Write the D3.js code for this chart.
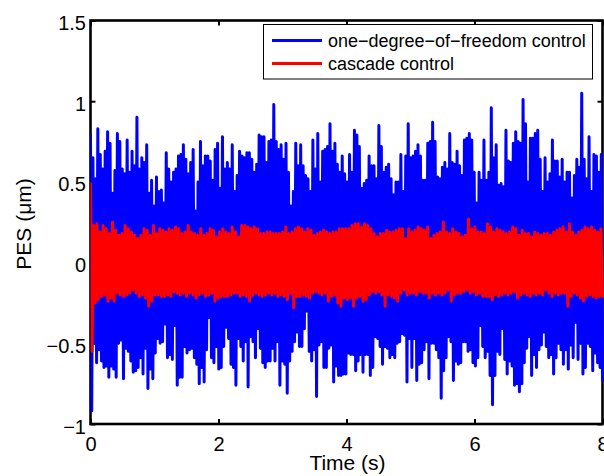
<!DOCTYPE html>
<html><head><meta charset="utf-8">
<script src="https://cdn.jsdelivr.net/npm/d3@7"></script>
<style>html,body{margin:0;padding:0;background:#fff;overflow:hidden}</style>
</head><body><svg id="c" width="604" height="476"></svg>
<script>
const seriesNames = ["one\u2212degree\u2212of\u2212freedom control", "cascade control"];
const seriesColors = ["#0000ff", "#ff0000"];
const xTicks = [0, 2, 4, 6, 8];
const yTicks = [-1, -0.5, 0, 0.5, 1, 1.5];
const xLabel = "Time (s)";
const yLabel = "PES (\u03bcm)";
const tEnd = 8;

// one-degree-of-freedom control: successive local maxima / minima (µm)
const blueHigh = [
0.79,0.65,0.52,0.83,0.67,0.58,0.69,0.81,0.74,0.43,
0.57,0.80,0.75,0.58,0.55,0.76,0.56,0.69,0.60,0.90,
0.58,0.65,0.62,0.73,0.43,0.51,0.35,0.53,0.44,0.45,
0.37,0.68,0.58,0.50,0.56,0.58,0.66,0.67,0.73,0.64,
0.55,0.62,0.70,0.32,0.50,0.75,0.60,0.66,0.66,0.63,
0.51,0.70,0.74,0.46,0.78,0.58,0.62,0.58,0.73,0.44,
0.54,0.69,0.66,0.65,0.68,0.68,0.64,0.56,0.61,0.79,
0.78,0.78,0.62,0.75,0.76,0.98,0.75,0.70,0.73,0.64,
0.74,0.56,0.35,0.44,0.74,0.60,0.73,0.60,0.54,0.52,
0.44,0.76,0.58,0.80,0.50,0.69,0.70,0.72,0.86,0.69,
0.74,0.61,0.56,0.66,0.55,0.50,0.67,0.56,0.82,0.79,
0.72,0.46,0.49,0.51,0.66,0.60,0.60,0.52,0.85,0.72,
0.56,0.59,0.61,0.52,0.42,0.50,0.50,0.67,0.44,0.66,
0.86,0.65,0.66,0.69,0.73,0.66,0.51,0.51,0.74,0.75,
0.87,0.75,0.53,0.52,0.59,0.62,0.58,0.80,0.62,0.61,
0.69,0.60,0.54,0.76,0.77,0.80,0.76,0.56,0.37,0.56,
0.51,0.76,0.51,0.56,0.96,0.65,0.73,0.48,0.49,0.47,
0.82,0.63,0.62,0.74,0.81,0.75,0.74,1.01,0.86,0.50,
0.77,0.77,0.80,0.82,0.64,0.44,0.65,0.50,0.55,0.76,
0.63,0.63,0.53,0.64,0.50,0.56,0.56,0.40,0.54,0.64,
0.59,1.05,0.64,0.52,0.78,0.44,0.67,0.66,0.56,0.67
];
const blueLow = [
-0.92,-0.50,-0.62,-0.54,-0.61,-0.65,-0.64,-0.71,-0.64,-0.66,
-0.71,-0.50,-0.48,-0.72,-0.53,-0.55,-0.61,-0.68,-0.67,-0.65,
-0.59,-0.69,-0.53,-0.78,-0.66,-0.72,-0.56,-0.47,-0.50,-0.49,
-0.38,-0.59,-0.57,-0.60,-0.39,-0.76,-0.71,-0.71,-0.52,-0.56,
-0.54,-0.53,-0.59,-0.63,-0.75,-0.65,-0.74,-0.54,-0.34,-0.59,
-0.62,-0.52,-0.66,-0.65,-0.52,-0.40,-0.47,-0.63,-0.65,-0.76,
-0.47,-0.52,-0.61,-0.49,-0.77,-0.46,-0.49,-0.59,-0.41,-0.53,
-0.62,-0.65,-0.61,-0.61,-0.53,-0.61,-0.49,-0.76,-0.61,-0.63,
-0.81,-0.61,-0.55,-0.49,-0.43,-0.52,-0.52,-0.41,-0.30,-0.55,
-0.61,-0.54,-0.83,-0.51,-0.49,-0.65,-0.65,-0.53,-0.51,-0.74,
-0.64,-0.70,-0.70,-0.69,
-0.69,-0.56,-0.57,-0.57,-0.67,-0.61,-0.57,-0.68,-0.57,-0.57,
-0.70,-0.65,-0.46,-0.47,-0.52,-0.63,-0.52,-0.53,-0.59,-0.57,
-0.59,-0.50,-0.49,-0.44,-0.45,-0.74,-0.47,-0.65,-0.47,-0.73,
-0.63,-0.62,-0.54,-0.49,-0.72,-0.50,-0.50,-0.54,-0.59,-0.84,
-0.67,-0.59,-0.46,-0.49,-0.73,-0.61,-0.63,-0.62,-0.49,-0.49,
-0.55,-0.54,-0.62,-0.64,-0.59,-0.39,-0.52,-0.59,-0.55,-0.70,
-0.88,-0.70,-0.55,-0.57,-0.41,-0.60,-0.69,-0.61,-0.64,-0.76,
-0.75,-0.80,-0.75,-0.62,-0.53,-0.46,-0.70,-0.57,-0.65,-0.54,
-0.51,-0.43,-0.52,-0.59,-0.57,-0.69,-0.59,-0.50,-0.54,-0.63,
-0.54,-0.66,-0.51,-0.59,-0.37,-0.60,-0.50,-0.69,-0.65,-0.50,
-0.52,-0.67,-0.56,-0.62,-0.65,-0.73
];

// cascade control: successive local maxima / minima (µm)
const redHigh = [
0.49,
0.23,0.24,0.19,0.23,0.21,0.18,0.25,0.20,0.17,0.18,
0.23,0.21,0.19,0.17,0.15,0.17,0.21,0.20,0.17,0.23,
0.18,0.21,0.20,0.19,0.21,0.20,0.22,0.21,0.18,0.19,
0.23,0.19,0.18,0.17,0.21,0.17,0.18,0.21,0.20,0.16,
0.19,0.21,0.19,0.18,0.22,0.19,0.16,0.23,0.23,0.22,
0.21,0.22,0.21,0.18,0.18,0.19,0.19,0.18,0.18,0.18,
0.19,0.22,0.18,0.19,0.21,0.22,0.21,0.19,0.21,0.20,
0.17,0.18,0.19,0.20,0.19,0.18,0.19,0.19,0.21,0.21,
0.21,0.21,0.23,0.24,
0.24,0.22,0.24,0.23,0.21,0.18,0.16,0.18,0.18,0.20,
0.19,0.19,0.20,0.21,0.21,0.15,0.21,0.19,0.20,0.22,
0.21,0.20,0.22,0.15,0.17,0.18,0.19,0.25,0.19,0.18,
0.21,0.19,0.18,0.16,0.17,0.27,0.21,0.22,0.19,0.19,
0.18,0.24,0.22,0.19,0.21,0.20,0.19,0.18,0.19,0.22,
0.21,0.17,0.20,0.18,0.18,0.16,0.19,0.18,0.17,0.18,
0.18,0.17,0.19,0.20,0.21,0.22,0.19,0.24,0.19,0.17,
0.19,0.20,0.22,0.21,0.22,0.20,0.19,0.21
];
const redLow = [
-0.55,
-0.25,-0.23,-0.21,-0.20,-0.24,-0.22,-0.24,-0.19,-0.20,-0.21,
-0.20,-0.19,-0.17,-0.19,-0.21,-0.20,-0.22,-0.27,-0.24,-0.20,
-0.20,
-0.21,-0.21,-0.20,-0.21,-0.18,-0.19,-0.20,-0.19,-0.21,-0.19,
-0.20,-0.22,-0.20,-0.19,-0.21,-0.20,-0.19,-0.24,-0.22,-0.21,
-0.21,
-0.21,-0.20,-0.19,-0.19,-0.21,-0.20,-0.21,-0.24,-0.20,-0.19,
-0.20,-0.21,-0.20,-0.19,-0.20,-0.19,-0.21,-0.20,-0.21,-0.23,
-0.19,
-0.28,-0.21,-0.21,-0.20,-0.21,-0.22,-0.19,-0.18,-0.19,-0.20,
-0.19,-0.24,-0.21,-0.20,-0.25,-0.27,-0.22,-0.23,-0.22,
-0.27,-0.22,-0.21,-0.24,-0.23,-0.20,-0.18,-0.19,-0.18,-0.20,
-0.27,-0.20,-0.21,-0.22,-0.24,-0.19,-0.17,-0.20,-0.19,-0.19,
-0.20,
-0.18,-0.19,-0.19,-0.22,-0.19,-0.20,-0.19,-0.20,-0.19,-0.17,
-0.24,-0.20,-0.19,-0.19,-0.18,-0.17,-0.19,-0.18,-0.20,-0.19,
-0.21,
-0.21,-0.21,-0.23,-0.20,-0.21,-0.20,-0.19,-0.20,-0.19,-0.18,
-0.22,-0.20,-0.19,-0.20,-0.21,-0.19,-0.20,-0.19,-0.20,-0.17,
-0.19,
-0.21,-0.19,-0.20,-0.19,-0.19,-0.27,-0.21,-0.19,-0.20,-0.22,
-0.24,-0.21,-0.20,-0.21,-0.22,-0.21,-0.21
];

function toSeries(high, low) {
  const n = Math.min(high.length, low.length);
  const dt = tEnd / (n - 0.5);
  const pts = [];
  for (let i = 0; i < n; i++) {
    pts.push([i * dt, high[i]]);
    pts.push([(i + 0.5) * dt, low[i]]);
  }
  return pts;
}
const series = [toSeries(blueHigh, blueLow), toSeries(redHigh, redLow)];

const FONT = "'Liberation Sans', Arial, Helvetica, sans-serif";
const L = 90.5, R = 602.5, T = 20.5, B = 424;
const x = d3.scaleLinear().domain([0, 8]).range([L, R]);
const y = d3.scaleLinear().domain([-1, 1.5]).range([B, T]);
const fmt = d => (d < 0 ? "\u2212" + Math.abs(d) : String(d));

const svg = d3.select("#c");
svg.append("rect").attr("width", 604).attr("height", 476).attr("fill", "#fff");

// axes (drawn below the data, MATLAB layer 'bottom')
const ax = svg.append("g");
const tl = 5;
const gB = ax.append("g").attr("transform", `translate(0,${B})`)
  .call(d3.axisBottom(x).tickValues(xTicks).tickSize(-tl).tickFormat(fmt));
gB.selectAll("text").attr("y", 26.7).attr("dy", null);
const gT = ax.append("g").attr("transform", `translate(0,${T})`)
  .call(d3.axisTop(x).tickValues(xTicks).tickSize(-tl).tickFormat(""));
const gL = ax.append("g").attr("transform", `translate(${L},0)`)
  .call(d3.axisLeft(y).tickValues(yTicks).tickSize(-tl).tickFormat(fmt));
gL.selectAll("text").attr("x", -4.5).attr("dy", "0.45em");
const gR = ax.append("g").attr("transform", `translate(${R},0)`)
  .call(d3.axisRight(y).tickValues(yTicks).tickSize(-tl).tickFormat(""));
ax.selectAll(".domain").remove();
ax.selectAll(".tick line").attr("stroke", "#000").attr("stroke-width", 2);
ax.selectAll(".tick text").attr("fill", "#000").style("font-family", FONT).style("font-size", "20px");
ax.append("rect").attr("x", L).attr("y", T).attr("width", R - L).attr("height", B - T)
  .attr("fill", "none").attr("stroke", "#000").attr("stroke-width", 2.6);

// labels
svg.append("text").attr("x", 347.5).attr("y", 469.5).attr("text-anchor", "middle")
  .style("font-family", FONT).style("font-size", "21px").text(xLabel);
svg.append("text").attr("transform", "translate(30.5,224) rotate(-90)").attr("text-anchor", "middle")
  .style("font-family", FONT).style("font-size", "21px").text(yLabel);

// data
svg.append("clipPath").attr("id", "clip").append("rect")
  .attr("x", L).attr("y", T - 1).attr("width", R - L + 1.5).attr("height", B - T + 2);
const line = d3.line().x(d => x(d[0])).y(d => y(d[1]));
const dg = svg.append("g").attr("clip-path", "url(#clip)");
series.forEach((s, i) => {
  dg.append("path").datum(s).attr("d", line).attr("fill", "none")
    .attr("stroke", seriesColors[i]).attr("stroke-width", 3)
    .attr("stroke-linejoin", "round").attr("stroke-linecap", "round");
});

// legend
const lg = svg.append("g");
lg.append("rect").attr("x", 263.5).attr("y", 24.5).attr("width", 329).attr("height", 54.5)
  .attr("fill", "#fff").attr("stroke", "#000").attr("stroke-width", 1);
const rowY = [40.5, 63.5];
seriesNames.forEach((nm, i) => {
  lg.append("line").attr("x1", 272).attr("x2", 322).attr("y1", rowY[i]).attr("y2", rowY[i])
    .attr("stroke", seriesColors[i]).attr("stroke-width", 3);
  lg.append("text").attr("x", 328).attr("y", rowY[i]).attr("dy", "0.35em")
    .style("font-family", FONT).style("font-size", "18px").text(nm);
});
</script>
</body></html>
